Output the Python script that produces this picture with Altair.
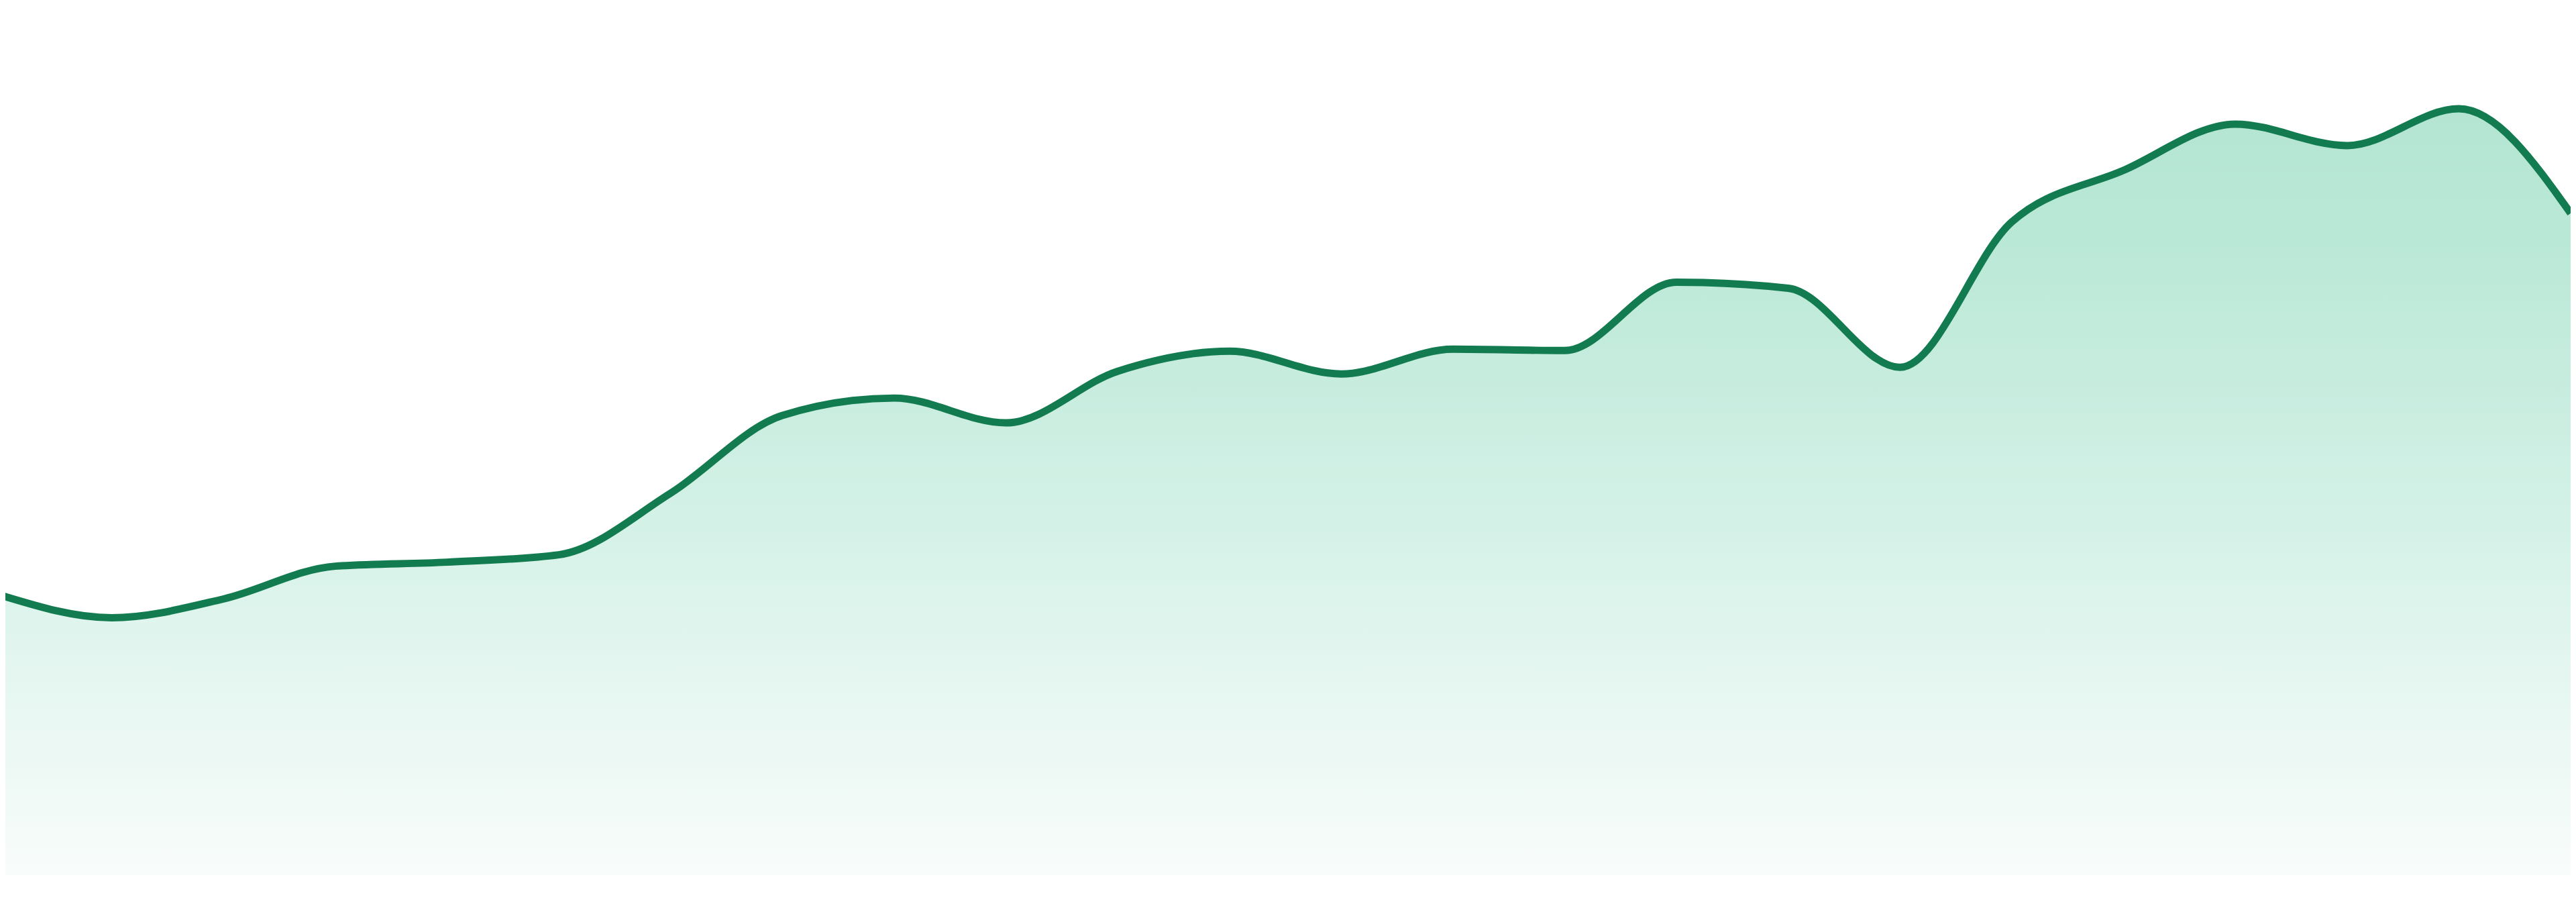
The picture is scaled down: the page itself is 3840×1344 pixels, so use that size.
import altair as alt
import pandas as pd

# 24 evenly spaced observations (index) and their values
index = list(range(24))
values = [41.8, 38.4, 41.2, 46.1, 46.7, 47.8, 57.0, 68.6, 71.2, 67.5, 75.2, 78.2,
          74.8, 78.5, 78.3, 88.5, 87.6, 75.8, 97.5, 105.2, 112.1, 108.9, 114.4, 98.8]

df = pd.DataFrame({"i": index, "v": values})

# the view starts 8px into the picture (page margin); the domain starts just past index 0
x_enc = alt.X("i:Q", axis=None, scale=alt.Scale(domain=[0.048, 23], nice=False, zero=False))
y_enc = alt.Y("v:Q", axis=None, scale=alt.Scale(domain=[0, 129.7], nice=False))

gradient = alt.Gradient(
    gradient="linear",
    stops=[
        alt.GradientStop(color="#b4e5d2", offset=0),
        alt.GradientStop(color="#b9e8d6", offset=0.15),
        alt.GradientStop(color="#c3ebdc", offset=0.30),
        alt.GradientStop(color="#d6f2e8", offset=0.56),
        alt.GradientStop(color="#ebf8f3", offset=0.82),
        alt.GradientStop(color="#f8fcfb", offset=1),
    ],
    x1=1, x2=1, y1=0, y2=1,
)

base = alt.Chart(df)
area = base.mark_area(interpolate="monotone", color=gradient, clip=True).encode(x=x_enc, y=y_enc)
line = base.mark_line(interpolate="monotone", color="#137b50", strokeWidth=11, clip=True).encode(x=x_enc, y=y_enc)

chart = (
    alt.layer(area, line)
    .properties(
        width=3832,
        height=1297,
        autosize="none",
        padding=0,
    )
    .configure_view(stroke=None)
)

chart.save("out.html", embed_options={"renderer": "svg", "actions": False})
